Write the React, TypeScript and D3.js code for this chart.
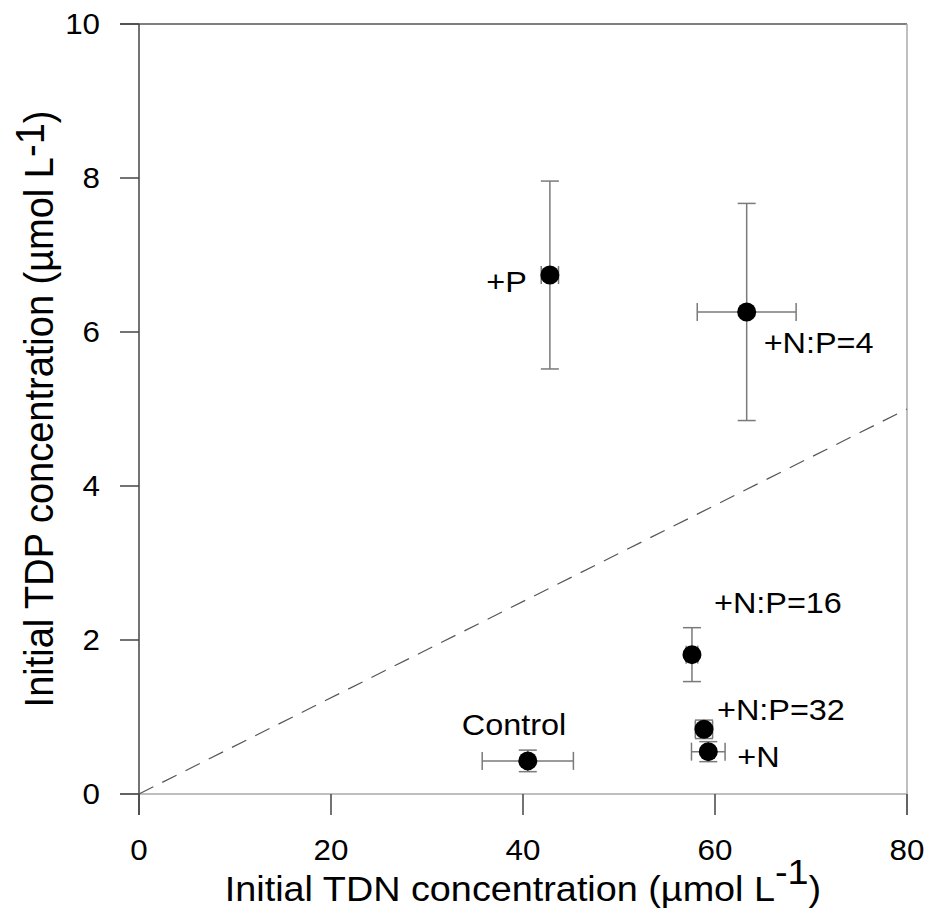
import React from "react";
import * as d3 from "d3";

// Data
const treatments = ["Control", "+P", "+N", "+N:P=4", "+N:P=16", "+N:P=32"];
const tdn = [40.5, 42.8, 59.3, 63.3, 57.6, 58.85];
const tdnErr = [4.75, 0.9, 1.75, 5.15, 0.6, 0.9];
const tdp = [0.43, 6.74, 0.55, 6.26, 1.81, 0.84];
const tdpErr = [0.14, 1.22, 0.13, 1.41, 0.35, 0.12];

const xTicks = [0, 20, 40, 60, 80];
const yTicks = [0, 2, 4, 6, 8, 10];
const refLine = [
  [0, 0],
  [80, 5],
];

// Label placement (pixel offsets from point, anchor)
const labelLayout: Record<string, { dx: number; dy: number; anchor: string }> = {
  Control: { dx: -66, dy: -26, anchor: "start" },
  "+P": { dx: -23, dy: 17, anchor: "end" },
  "+N": { dx: 29, dy: 15, anchor: "start" },
  "+N:P=4": { dx: 17, dy: 41, anchor: "start" },
  "+N:P=16": { dx: 22, dy: -42, anchor: "start" },
  "+N:P=32": { dx: 13, dy: -9, anchor: "start" },
};

const W = 930;
const H = 922;
const left = 139;
const right = 907;
const top = 24;
const bottom = 794;
const FONT = "'Liberation Sans', Arial, sans-serif";
const SX = 1.08;

function SText({
  x,
  y,
  size,
  anchor = "start",
  dy,
  children,
}: {
  x: number;
  y: number;
  size: number;
  anchor?: string;
  dy?: string;
  children: React.ReactNode;
}) {
  return (
    <g transform={`translate(${x},${y}) scale(${SX},1)`}>
      <text x={0} y={0} dy={dy} textAnchor={anchor as any} fontSize={size} fill="#000">
        {children}
      </text>
    </g>
  );
}

export default function App() {
  const x = d3.scaleLinear().domain([0, 80]).range([left, right]);
  const y = d3.scaleLinear().domain([0, 10]).range([bottom, top]);
  const line = d3
    .line<number[]>()
    .x((d) => x(d[0]))
    .y((d) => y(d[1]));
  const cap = 9;
  const errColor = "#7a7a7a";

  return (
    <svg
      width={W}
      height={H}
      style={{ position: "absolute", left: 0, top: 0, background: "#fff" }}
      fontFamily={FONT}
    >
      <rect x={0} y={0} width={W} height={H} fill="#fff" />
      {/* frame */}
      <line x1={120} x2={right} y1={top} y2={top} stroke="#555" strokeWidth={1.5} />
      <line x1={right} x2={right} y1={top} y2={815} stroke="#aaa" strokeWidth={1.5} />
      <line x1={120} x2={right} y1={bottom} y2={bottom} stroke="#aaa" strokeWidth={1.5} />
      <line x1={left} x2={left} y1={top} y2={815} stroke="#444" strokeWidth={1.5} />

      {/* y ticks */}
      {yTicks.map((t) => (
        <g key={"y" + t}>
          <line x1={120} x2={left} y1={y(t)} y2={y(t)} stroke="#444" strokeWidth={1.5} />
          <SText x={100} y={y(t)} dy="0.35em" anchor="end" size={29}>
            {t}
          </SText>
        </g>
      ))}
      {/* x ticks */}
      {xTicks.map((t) => (
        <g key={"x" + t}>
          <line x1={x(t)} x2={x(t)} y1={bottom} y2={815} stroke="#444" strokeWidth={1.5} />
          <SText x={x(t)} y={860} anchor="middle" size={29}>
            {t}
          </SText>
        </g>
      ))}

      {/* reference line */}
      <path
        d={line(refLine) || ""}
        fill="none"
        stroke="#555"
        strokeWidth={1.2}
        strokeDasharray="16,10"
      />

      {/* error bars & points */}
      {treatments.map((name, i) => {
        const cx = x(tdn[i]);
        const cy = y(tdp[i]);
        const x0 = x(tdn[i] - tdnErr[i]);
        const x1 = x(tdn[i] + tdnErr[i]);
        const y0 = y(tdp[i] - tdpErr[i]);
        const y1 = y(tdp[i] + tdpErr[i]);
        const lab = labelLayout[name];
        return (
          <g key={name}>
            <g stroke={errColor} strokeWidth={1.5}>
              <line x1={cx} x2={cx} y1={y0} y2={y1} />
              <line x1={cx - cap} x2={cx + cap} y1={y0} y2={y0} />
              <line x1={cx - cap} x2={cx + cap} y1={y1} y2={y1} />
              <line x1={x0} x2={x1} y1={cy} y2={cy} />
              <line x1={x0} x2={x0} y1={cy - cap} y2={cy + cap} />
              <line x1={x1} x2={x1} y1={cy - cap} y2={cy + cap} />
            </g>
            <circle cx={cx} cy={cy} r={9.5} fill="#000" />
            <SText x={cx + lab.dx} y={cy + lab.dy} anchor={lab.anchor} size={30}>
              {name}
            </SText>
          </g>
        );
      })}

      {/* axis titles */}
      <SText x={(left + right) / 2} y={901} anchor="middle" size={35}>
        Initial TDN concentration (µmol L
        <tspan dy={-17}>-1</tspan>
        <tspan dy={17}>)</tspan>
      </SText>
      <g transform={`translate(53, ${(top + bottom) / 2}) rotate(-90) scale(1, ${SX})`}>
        <text x={0} y={0} textAnchor="middle" fontSize={38} fill="#000">
          Initial TDP concentration (µmol L
          <tspan dy={-8}>-1</tspan>
          <tspan dy={8}>)</tspan>
        </text>
      </g>
    </svg>
  );
}
